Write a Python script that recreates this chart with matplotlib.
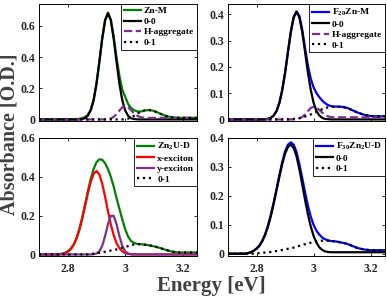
import matplotlib
matplotlib.use("Agg")
import matplotlib.pyplot as plt
from matplotlib.ticker import FuncFormatter

plt.rcParams['font.family'] = ['Liberation Serif', 'DejaVu Serif']
plt.rcParams['font.weight'] = 'bold'
plt.rcParams['mathtext.fontset'] = 'custom'
plt.rcParams['mathtext.rm'] = 'Liberation Serif:bold'
plt.rcParams['mathtext.it'] = 'Liberation Serif:bold'
plt.rcParams['mathtext.bf'] = 'Liberation Serif:bold'

# Energy sampling grid [eV]
energy = [2.70, 2.71, 2.72, 2.73, 2.74, 2.75, 2.76, 2.77, 2.78, 2.79,
          2.80, 2.81, 2.82, 2.83, 2.84, 2.85, 2.86, 2.87, 2.88, 2.89,
          2.90, 2.91, 2.92, 2.93, 2.94, 2.95, 2.96, 2.97, 2.98, 2.99,
          3.00, 3.01, 3.02, 3.03, 3.04, 3.05, 3.06, 3.07, 3.08, 3.09,
          3.10, 3.11, 3.12, 3.13, 3.14, 3.15, 3.16, 3.17, 3.18, 3.19,
          3.20, 3.21, 3.22, 3.23, 3.24, 3.25]

# ---- Top-left: Zn-M ----
znm_total = [0, 0, 0, 0, 0, 0, 0, 0, 0, 0, 0, 0, 0,
             0.002, 0.004, 0.008, 0.015, 0.03, 0.062, 0.124, 0.228, 0.368, 0.518, 0.636,
             0.685, 0.64, 0.53, 0.395, 0.28, 0.19, 0.145, 0.1, 0.075, 0.06, 0.053, 0.05,
             0.053, 0.058, 0.06, 0.059, 0.054, 0.047, 0.039, 0.031, 0.024, 0.019, 0.015,
             0.012, 0.011,
             0.01, 0.01, 0.01, 0.01, 0.01, 0.01, 0.01]
znm_00 = [0, 0, 0, 0, 0, 0, 0, 0, 0, 0, 0, 0, 0, 0,
          0.001, 0.003, 0.008, 0.024, 0.058, 0.122, 0.227, 0.367, 0.517, 0.635, 0.68,
          0.635, 0.517, 0.367, 0.227, 0.122, 0.058, 0.024, 0.008, 0.003, 0.001,
          0, 0, 0, 0, 0, 0, 0, 0, 0, 0, 0, 0, 0, 0, 0, 0, 0, 0, 0, 0, 0]
znm_hagg = [0, 0, 0, 0, 0, 0, 0, 0, 0, 0, 0, 0, 0, 0, 0, 0, 0, 0, 0, 0, 0, 0, 0, 0,
            0.002, 0.0065, 0.016, 0.034, 0.057, 0.078, 0.086, 0.079, 0.06, 0.041, 0.026,
            0.017, 0.012,
            0.01, 0.01, 0.01, 0.01, 0.01, 0.01, 0.01, 0.01, 0.01, 0.01, 0.01, 0.01, 0.01,
            0.01, 0.01, 0.01, 0.01, 0.01, 0.01]
znm_01 = [0, 0, 0, 0, 0, 0, 0, 0, 0, 0, 0, 0, 0, 0, 0, 0, 0, 0, 0, 0, 0, 0, 0, 0, 0,
          0, 0, 0, 0, 0,
          0.002, 0.005, 0.012, 0.022, 0.034, 0.045, 0.054, 0.059, 0.06, 0.058, 0.053,
          0.046, 0.038, 0.03, 0.023, 0.018, 0.014, 0.012, 0.011,
          0.01, 0.01, 0.01, 0.01, 0.01, 0.01, 0.01]

# ---- Top-right: F20Zn-M ----
f20_total = [0, 0, 0, 0, 0, 0, 0, 0, 0, 0, 0, 0, 0,
             0.001, 0.002, 0.006, 0.015, 0.032, 0.063, 0.112, 0.178, 0.257, 0.333, 0.39,
             0.412, 0.395, 0.343, 0.272, 0.205, 0.155, 0.122, 0.1, 0.085, 0.072, 0.062,
             0.055, 0.051, 0.049, 0.049, 0.049, 0.048, 0.046, 0.043, 0.038, 0.033, 0.028,
             0.024, 0.02, 0.017, 0.015, 0.013,
             0.012, 0.012, 0.012, 0.012, 0.012]
f20_00 = [0, 0, 0, 0, 0, 0, 0, 0, 0, 0, 0, 0, 0,
          0.001, 0.002, 0.006, 0.015, 0.032, 0.063, 0.112, 0.178, 0.257, 0.333, 0.389,
          0.41, 0.389, 0.333, 0.257, 0.178, 0.112, 0.063, 0.032, 0.015, 0.006, 0.002,
          0.001,
          0, 0, 0, 0, 0, 0, 0, 0, 0, 0, 0, 0, 0, 0, 0, 0, 0, 0, 0, 0]
f20_hagg = [0, 0, 0, 0, 0, 0, 0, 0, 0, 0, 0, 0, 0, 0, 0, 0, 0, 0, 0, 0, 0, 0, 0, 0,
            0.001, 0.004, 0.009, 0.019, 0.032, 0.044, 0.048, 0.045, 0.036, 0.026, 0.017,
            0.012, 0.009,
            0.008, 0.008, 0.008, 0.008, 0.008, 0.008, 0.008, 0.008, 0.008, 0.008, 0.008,
            0.008, 0.008, 0.008, 0.008, 0.008, 0.008, 0.008, 0.008]
f20_01 = [0, 0, 0, 0, 0, 0, 0, 0, 0, 0, 0, 0, 0, 0, 0, 0, 0, 0, 0, 0, 0, 0, 0,
          0.002, 0.003, 0.005, 0.008, 0.011, 0.015, 0.019, 0.024, 0.029, 0.034, 0.039,
          0.043, 0.046, 0.048, 0.049, 0.049, 0.048, 0.047, 0.045, 0.042, 0.038, 0.033,
          0.028, 0.024, 0.02, 0.017, 0.015, 0.013,
          0.012, 0.012, 0.012, 0.012, 0.012]

# ---- Bottom-left: Zn2U-D ----
zn2_total = [0, 0, 0, 0, 0, 0, 0, 0,
             0.004, 0.008, 0.016, 0.029, 0.05, 0.083, 0.128, 0.188, 0.256, 0.325, 0.389,
             0.44, 0.475, 0.49, 0.488, 0.47, 0.44, 0.40, 0.35, 0.29, 0.235, 0.18, 0.13,
             0.093, 0.07, 0.06, 0.055, 0.053, 0.052, 0.05, 0.048, 0.045, 0.042, 0.038,
             0.034, 0.029, 0.024, 0.02, 0.016, 0.013, 0.011,
             0.01, 0.01, 0.01, 0.01, 0.01, 0.01, 0.01]
zn2_x = [0, 0, 0, 0, 0, 0, 0,
         0.001, 0.003, 0.0065, 0.013, 0.026, 0.047, 0.079, 0.124, 0.181, 0.247, 0.315,
         0.374, 0.415, 0.43, 0.413, 0.365, 0.298, 0.224, 0.155, 0.099, 0.058, 0.032,
         0.016, 0.007, 0.003, 0.001,
         0, 0, 0, 0, 0, 0, 0, 0, 0, 0, 0, 0, 0, 0, 0, 0, 0, 0, 0, 0, 0, 0, 0]
zn2_y = [0, 0, 0, 0, 0, 0, 0, 0, 0, 0, 0, 0, 0, 0, 0, 0, 0, 0, 0,
         0.001, 0.005, 0.016, 0.044, 0.094, 0.155, 0.199, 0.199, 0.155, 0.094, 0.044,
         0.016, 0.005, 0.001,
         0, 0, 0, 0, 0, 0, 0, 0, 0, 0, 0, 0, 0, 0, 0, 0, 0, 0, 0, 0, 0, 0, 0]
zn2_01 = [0, 0, 0, 0, 0, 0, 0, 0, 0, 0, 0, 0, 0, 0, 0, 0, 0, 0,
          0.002, 0.004, 0.006, 0.009, 0.011, 0.014, 0.017, 0.02, 0.023, 0.026, 0.03,
          0.034, 0.038, 0.043, 0.048, 0.051, 0.053, 0.053, 0.052, 0.05, 0.048, 0.045,
          0.042, 0.038, 0.034, 0.029, 0.024, 0.02, 0.016, 0.013, 0.011,
          0.01, 0.01, 0.01, 0.01, 0.01, 0.01, 0.01]

# ---- Bottom-right: F30Zn2U-D ----
f30_total = [0, 0, 0, 0, 0, 0, 0,
             0.002, 0.005, 0.01, 0.018, 0.028, 0.045, 0.067, 0.097, 0.134, 0.177, 0.224,
             0.272, 0.317, 0.354, 0.377, 0.385, 0.377, 0.352, 0.31, 0.262, 0.212, 0.166,
             0.128, 0.099, 0.079, 0.066, 0.056, 0.05, 0.046, 0.044, 0.043, 0.042, 0.04,
             0.038, 0.036, 0.033, 0.029, 0.025, 0.021, 0.018, 0.016, 0.014, 0.013,
             0.012, 0.012, 0.012, 0.012, 0.012, 0.012]
f30_00 = [0, 0, 0, 0, 0, 0, 0,
          0.002, 0.005, 0.01, 0.017, 0.027, 0.043, 0.065, 0.094, 0.13, 0.173, 0.219,
          0.266, 0.31, 0.346, 0.369, 0.377, 0.366, 0.337, 0.292, 0.24, 0.186, 0.136,
          0.094, 0.061, 0.038, 0.022, 0.013, 0.008, 0.006,
          0.005, 0.005, 0.005, 0.005, 0.005, 0.005, 0.005, 0.005, 0.005, 0.005,
          0.005, 0.005, 0.005, 0.005, 0.005, 0.005, 0.005, 0.005, 0.005, 0.005]
f30_01 = [0, 0, 0, 0, 0, 0, 0, 0, 0, 0,
          0.001, 0.002, 0.003, 0.004, 0.005, 0.006, 0.008, 0.009, 0.011, 0.013, 0.015,
          0.017, 0.019, 0.021, 0.024, 0.027, 0.03, 0.033, 0.036, 0.038, 0.04, 0.042,
          0.044, 0.045, 0.045, 0.045, 0.044, 0.043, 0.042, 0.04, 0.038, 0.036, 0.033,
          0.029, 0.025, 0.021, 0.018, 0.016, 0.014, 0.013,
          0.012, 0.012, 0.012, 0.012, 0.012, 0.012]

GREEN = '#008000'
BLUE = '#0000ff'
RED = '#ff0000'
PURPLE = '#7e2f8e'
LW = 1.6

W, H = 387, 299
fig = plt.figure(figsize=(W / 100, H / 100), dpi=100)

def add_ax(x0, x1, ytop, ybot):
    return fig.add_axes([x0 / W, 1 - ybot / H, (x1 - x0) / W, (ybot - ytop) / H])

ax_tl = add_ax(39, 197, 4, 121)
ax_tr = add_ax(228, 385, 4, 121)
ax_bl = add_ax(39, 197, 138, 256)
ax_br = add_ax(228, 385, 138, 256)

fmt = FuncFormatter(lambda v, p: '%g' % round(v, 3))

def style(ax, ylim, yticks, xlabels):
    ax.set_xlim(2.70, 3.25)
    ax.set_ylim(*ylim)
    ax.set_xticks([2.8, 3.0, 3.2])
    ax.set_yticks(yticks)
    ax.xaxis.set_major_formatter(fmt)
    ax.yaxis.set_major_formatter(fmt)
    ax.tick_params(direction='in', top=True, right=True, length=2.5, width=0.6,
                   labelsize=8.5, pad=2.5, labelcolor='#262626')
    ax.tick_params(axis='x', pad=5)
    if not xlabels:
        ax.tick_params(axis='x', labelbottom=False)
    for s in ax.spines.values():
        s.set_linewidth(0.7)
    for lab in ax.get_xticklabels() + ax.get_yticklabels():
        lab.set_fontweight('bold')

def legend(ax):
    leg = ax.legend(loc='upper right', borderaxespad=0,
                    handlelength=1.8, handletextpad=0.3, labelspacing=0.2,
                    borderpad=0.3, fancybox=False, framealpha=1,
                    edgecolor='black', prop={'weight': 'bold', 'size': 6.8})
    leg.get_frame().set_linewidth(0.6)

# Top-left
ax = ax_tl
ax.plot(energy, znm_total, color=GREEN, lw=LW, label='Zn-M')
ax.plot(energy, znm_00, color='black', lw=LW, label='0-0')
ax.plot(energy, znm_hagg, color=PURPLE, lw=LW, ls='--', label='H-aggregate')
ax.plot(energy, znm_01, color='black', lw=LW, ls=':', label='0-1')
style(ax, (-0.01, 0.74), [0, 0.2, 0.4, 0.6], False)
legend(ax)

# Top-right
ax = ax_tr
ax.plot(energy, f20_total, color=BLUE, lw=LW, label=r'F$_{20}$Zn-M')
ax.plot(energy, f20_00, color='black', lw=LW, label='0-0')
ax.plot(energy, f20_hagg, color=PURPLE, lw=LW, ls='--', label='H-aggregate')
ax.plot(energy, f20_01, color='black', lw=LW, ls=':', label='0-1')
style(ax, (-0.006, 0.44), [0, 0.1, 0.2, 0.3, 0.4], False)
legend(ax)

# Bottom-left
ax = ax_bl
ax.plot(energy, zn2_total, color=GREEN, lw=LW, label=r'Zn$_2$U-D')
ax.plot(energy, zn2_x, color=RED, lw=LW, label='x-exciton')
ax.plot(energy, zn2_y, color=PURPLE, lw=LW, label='y-exciton')
ax.plot(energy, zn2_01, color='black', lw=LW, ls=':', label='0-1')
style(ax, (-0.008, 0.6), [0, 0.2, 0.4, 0.6], True)
legend(ax)

# Bottom-right
ax = ax_br
ax.plot(energy, f30_total, color=BLUE, lw=LW, label=r'F$_{30}$Zn$_2$U-D')
ax.plot(energy, f30_00, color='black', lw=LW, label='0-0')
ax.plot(energy, f30_01, color='black', lw=LW, ls=':', label='0-1')
style(ax, (-0.008, 0.4), [0, 0.1, 0.2, 0.3, 0.4], True)
legend(ax)

fig.text(10 / W, 1 - 134 / H, 'Absorbance [O.D.]', rotation=90, ha='center', va='center',
         fontsize=14.5, fontweight='bold', color='#404040')
fig.text(0.545, 0.045, 'Energy [eV]', ha='center', va='center',
         fontsize=15, fontweight='bold', color='#404040')

fig.savefig('out.png', dpi=100)
